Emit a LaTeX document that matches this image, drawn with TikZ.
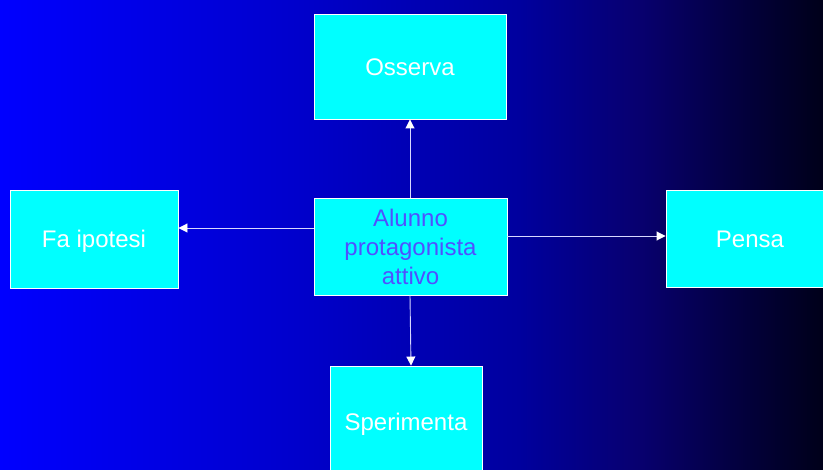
\documentclass[tikz,border=0pt]{standalone}
\usepackage{fontspec}
\setmainfont{Liberation Sans}
\usetikzlibrary{arrows.meta}
\definecolor{boxcyan}{RGB}{0,255,255}
\definecolor{centertext}{RGB}{80,80,255}
\definecolor{linecol}{RGB}{215,215,255}
\pgfdeclarehorizontalshading{bgshade}{100bp}{rgb(0bp)=(0,0,1); rgb(25bp)=(0,0,1); rgb(43bp)=(0,0,0.80); rgb(56.5bp)=(0,0,0.62); rgb(64bp)=(0.03,0,0.43); rgb(70bp)=(0.01,0,0.24); rgb(75bp)=(0,0,0.10); rgb(100bp)=(0,0,0.10)}
\newcommand{\bl}[2]{\raisebox{-#1}[0pt][0pt]{#2}}
\tikzset{
  box/.style={draw=white, line width=0.9pt, fill=boxcyan, inner sep=0pt, align=center,
    font=\fontsize{24}{29}\selectfont, text=white},
  arr/.style={draw=linecol, line width=0.9pt, -{Triangle[length=9pt,width=9pt,fill=white,color=white]}}
}
\begin{document}
\begin{tikzpicture}[x=1pt,y=-1pt]
\useasboundingbox (0,0) rectangle (823,470);
\shade[shading=bgshade] (0,0) rectangle (823,470);
\node[box, minimum width=192pt, minimum height=105pt] (oss) at (410,66.5) {\bl{9.5pt}{Osserva}};
\node[box, minimum width=193pt, minimum height=97pt, text=centertext] (alu) at (410.5,246.5) {Alunno\\protagonista\\attivo};
\node[box, minimum width=168pt, minimum height=98pt] (fa) at (94,239) {\bl{9pt}{Fa ipotesi}};
\node[box, minimum width=168pt, minimum height=97pt] (pen) at (750,238.5) {\bl{9pt}{Pensa}};
\node[box, minimum width=152pt, minimum height=114pt] (spe) at (406,423) {\bl{8pt}{Sperimenta}};
\draw[arr] ([xshift=-0.5pt]alu.north) -- (oss.south);
\draw[arr] ([yshift=18.5pt]alu.west) -- ([yshift=11pt]fa.east);
\draw[arr] ([yshift=10.5pt]alu.east) -- ([yshift=2.5pt]pen.west);
\draw[arr] ([xshift=-0.5pt]alu.south) -- ([xshift=5pt]spe.north);
\end{tikzpicture}
\end{document}
